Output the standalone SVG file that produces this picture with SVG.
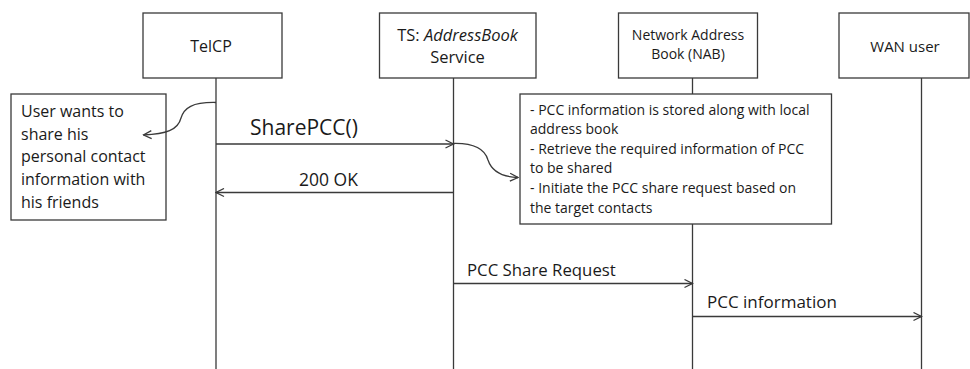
<svg xmlns="http://www.w3.org/2000/svg" width="970" height="369" viewBox="0 0 970 369">
  <style>
    .box { fill: #ffffff; stroke: #3a3a3a; stroke-width: 1.3; }
    .life { stroke: #3a3a3a; stroke-width: 1.3; fill: none; }
    .msg { stroke: #3a3a3a; stroke-width: 1.3; fill: none; marker-end: url(#open); }
    text { font-family: "Open Sans", "Liberation Sans", sans-serif; fill: #1a1a1a; }
    .t16 { font-size: 16px; }
    .t17 { font-size: 16.5px; }
    .t14 { font-size: 14px; }
    .t21 { font-size: 21px; }
  </style>
  <defs>
    <marker id="open" viewBox="0 0 10 10" refX="9" refY="5" markerWidth="10" markerHeight="10" markerUnits="userSpaceOnUse" orient="auto">
      <path d="M1,1 L9,5 L1,9" fill="none" stroke="#3a3a3a" stroke-width="1.3"/>
    </marker>
  </defs>
  <rect width="970" height="369" fill="#ffffff"/>

  <!-- lifelines -->
  <g id="lifelines">
    <line class="life" x1="216" y1="78" x2="216" y2="369"/>
    <line class="life" x1="453.5" y1="78" x2="453.5" y2="369"/>
    <line class="life" x1="692.5" y1="78" x2="692.5" y2="369"/>
    <line class="life" x1="921.5" y1="78" x2="921.5" y2="369"/>
  </g>

  <g id="telcp">
    <rect class="box" x="143" y="13" width="139" height="65"/>
    <text class="t16" x="211" y="52" text-anchor="middle">TelCP</text>
  </g>
  <g id="ts">
    <rect class="box" x="379.5" y="13" width="156.5" height="65"/>
    <text class="t17" x="457.5" y="40.5" text-anchor="middle">TS: <tspan font-style="italic">AddressBook</tspan></text>
    <text class="t17" x="457.5" y="63" text-anchor="middle">Service</text>
  </g>
  <g id="nab">
    <rect class="box" x="618.5" y="13" width="139" height="65"/>
    <text class="t14" x="688" y="40" text-anchor="middle">Network Address</text>
    <text class="t14" x="688" y="58.5" text-anchor="middle">Book (NAB)</text>
  </g>
  <g id="wan">
    <rect class="box" x="839" y="13" width="130" height="65"/>
    <text x="905" y="52" text-anchor="middle" font-size="15px">WAN user</text>
  </g>

  <g id="note-user">
    <rect class="box" x="11" y="94" width="155" height="126"/>
    <text class="t16" x="21" y="117">User wants to</text>
    <text class="t16" x="21" y="140">share his</text>
    <text class="t16" x="21" y="162">personal contact</text>
    <text class="t16" x="21" y="185">information with</text>
    <text class="t16" x="21" y="208">his friends</text>
  </g>
  <g id="note-nab">
    <rect class="box" x="520" y="94" width="311.5" height="130"/>
    <text class="t14" x="530" y="114.5">- PCC information is stored along with local</text>
    <text class="t14" x="530" y="134">address book</text>
    <text class="t14" x="530" y="154">- Retrieve the required information of PCC</text>
    <text class="t14" x="530" y="173">to be shared</text>
    <text class="t14" x="530" y="193">- Initiate the PCC share request based on</text>
    <text class="t14" x="530" y="213">the target contacts</text>
  </g>

  <g id="connectors">
    <path class="msg" d="M216,102.5 C192,102 184,108 181,118 C178,130 166,134 143.5,135"/>
    <line class="msg" x1="216" y1="144" x2="453.5" y2="144"/>
    <path class="msg" d="M453.5,143.5 C475,143 485,150 488,160 C492,172 504,177 518,177.5"/>
    <line class="msg" x1="453.5" y1="192.5" x2="216" y2="192.5"/>
    <line class="msg" x1="453.5" y1="283.5" x2="692.5" y2="283.5"/>
    <line class="msg" x1="692.5" y1="316.5" x2="921.5" y2="316.5"/>
  </g>

  <g id="labels">
    <text class="t21" x="250" y="135">SharePCC()</text>
    <text x="299" y="186" font-size="17.5px">200 OK</text>
    <text x="467" y="276" font-size="16.8px">PCC Share Request</text>
    <text x="707" y="308" font-size="17px">PCC information</text>
  </g>
</svg>
